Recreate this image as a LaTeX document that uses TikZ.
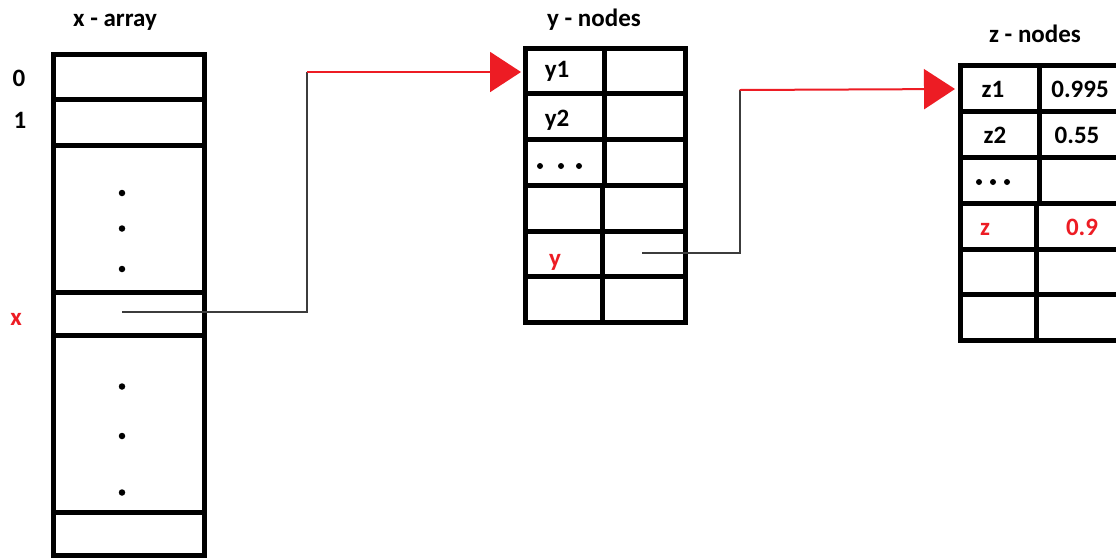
\documentclass[tikz,border=0pt]{standalone}
\usepackage{fontspec}
\setmainfont{Carlito}
\usetikzlibrary{arrows.meta}
\definecolor{pred}{RGB}{237,28,36}
\definecolor{lgray}{RGB}{60,60,60}
\begin{document}
\begin{tikzpicture}[x=1pt,y=-1pt,
  lbl/.style={font=\bfseries\fontsize{25}{29}\selectfont, inner sep=0pt, anchor=base},
  hl/.style={lbl, text=pred},
  gridline/.style={line width=5pt, draw=black},
  conn/.style={line width=2pt, draw=lgray},
  rconn/.style={line width=2pt, draw=pred, -{Triangle[width=40pt,length=31pt]}},
  bigdot/.style={circle, fill=black, inner sep=0pt, minimum size=6.5pt},
  smalldot/.style={circle, fill=black, inner sep=0pt, minimum size=6pt}]
\useasboundingbox (0,0) rectangle (1116,558);
\fill[white] (0,0) rectangle (1116,558);
\clip (0,0) rectangle (1116,558);

% ---------- x - array ----------
\node[lbl] (xtitle) at (115,26) {x - array};
\draw[gridline] (53.5,54) rectangle (204.5,555);
\foreach \yy in {99,145,292.5,335,512.5}
  \draw[gridline] (53.5,\yy) -- (204.5,\yy);
\node[lbl] (i0) at (19,86) {0};
\node[lbl] (i1) at (20,128) {1};
\node[hl] (ix) at (16,325) {x};
\foreach \yy/\nm in {193/a1,228.5/a2,269/a3,386.5/a4,436/a5,492.5/a6}
  \node[bigdot] (xd\nm) at (122,\yy) {};

% ---------- y - nodes ----------
\node[lbl] (ytitle) at (594,26) {y - nodes};
\draw[gridline] (525,48) rectangle (685,322.5);
\foreach \yy in {93.5,139.5,185,231,276.5}
  \draw[gridline] (525,\yy) -- (685,\yy);
\draw[gridline] (604,48) -- (604,185);
\draw[gridline] (602.5,185) -- (602.5,322.5);
\node[lbl] (y1) at (557,77) {y1};
\node[lbl] (y2) at (557,126) {y2};
\node[hl] (yy) at (555,266) {y};
\node[smalldot] (yd1) at (540,166) {};
\node[smalldot] (yd2) at (561,166) {};
\node[smalldot] (yd3) at (579,166) {};

% ---------- z - nodes ----------
\node[lbl] (ztitle) at (1035,42) {z - nodes};
\draw[gridline] (960,65.5) rectangle (1130,340);
\foreach \yy in {111,157,203,249,294.5}
  \draw[gridline] (960,\yy) -- (1130,\yy);
\draw[gridline] (1039,65.5) -- (1039,203);
\draw[gridline] (1036.5,203) -- (1036.5,340);
\node[lbl] (z1) at (993,97) {z1};
\node[lbl] (z2) at (995,143) {z2};
\node[hl] (zz) at (985,235) {z};
\node[lbl] (v1) at (1080,97) {0.995};
\node[lbl] (v2) at (1077,143) {0.55};
\node[hl] (v3) at (1082,235) {0.9};
\node[smalldot] (zd1) at (979,182) {};
\node[smalldot] (zd2) at (993,182) {};
\node[smalldot] (zd3) at (1007,182) {};

% ---------- connectors ----------
\coordinate (xsrc) at (122,312);
\coordinate (xc1) at (307,312);
\coordinate (xc2) at (307,72);
\coordinate (yin) at (521,72);
\draw[conn] (xsrc) -- (xc1) -- (xc2);
\draw[rconn] (xc2) -- (yin);

\coordinate (ysrc) at (642,253);
\coordinate (yc1) at (739.5,253);
\coordinate (yc2) at (739.5,90);
\coordinate (zin) at (955,89);
\draw[conn] (ysrc) -- (yc1) -- (yc2);
\draw[rconn] (yc2) -- (zin);
\end{tikzpicture}
\end{document}
